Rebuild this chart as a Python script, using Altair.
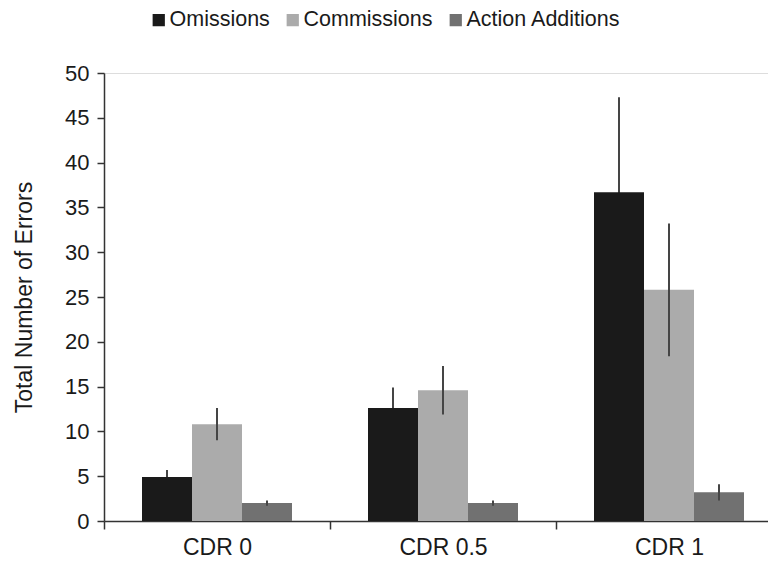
import altair as alt
import pandas as pd

groups = ["CDR 0", "CDR 0.5", "CDR 1"]
series = ["Omissions", "Commissions", "Action Additions"]
colors = ["#1a1a1a", "#ababab", "#717171"]

omissions = [4.9, 12.6, 36.7]
omissions_err = [0.8, 2.3, 10.6]
commissions = [10.8, 14.6, 25.8]
commissions_err = [1.8, 2.7, 7.4]
additions = [2.0, 2.0, 3.2]
additions_err = [0.3, 0.3, 0.9]

rows = []
for vals, errs, name in [(omissions, omissions_err, "Omissions"),
                         (commissions, commissions_err, "Commissions"),
                         (additions, additions_err, "Action Additions")]:
    for g, v, e in zip(groups, vals, errs):
        rows.append({"group": g, "series": name, "value": v,
                     "lo": v - e, "hi": v + e})
df = pd.DataFrame(rows)

FONT = "Liberation Sans"

x = alt.X("group:N", sort=groups, title=None,
          scale=alt.Scale(paddingInner=0, paddingOuter=0, range=[0, 678]),
          axis=alt.Axis(labelAngle=0, tickBand="extent", tickSize=8,
                        labelFontSize=23, labelPadding=7, labelColor="#1a1a1a",
                        domainColor="#333333", tickColor="#333333",
                        domainWidth=1.5, tickWidth=1.5, labelFont=FONT))
xoff = alt.XOffset("series:N", sort=series,
                   scale=alt.Scale(paddingInner=0, paddingOuter=0.76))

bars = alt.Chart(df).mark_bar(size=50).encode(
    x=x,
    xOffset=xoff,
    y=alt.Y("value:Q", title="Total Number of Errors",
            scale=alt.Scale(domain=[0, 50], nice=False),
            axis=alt.Axis(values=list(range(0, 51, 5)), grid=False, tickSize=7,
                          labelFontSize=22, labelPadding=8, labelColor="#1a1a1a",
                          titleFontSize=23, titleFontWeight="normal",
                          titleColor="#1a1a1a", titlePadding=28,
                          domainColor="#333333", tickColor="#333333",
                          domainWidth=1.5, tickWidth=1.5,
                          labelFont=FONT, titleFont=FONT)),
    color=alt.Color("series:N", sort=series,
                    scale=alt.Scale(domain=series, range=colors),
                    legend=alt.Legend(title=None, orient="none", direction="horizontal",
                                      legendX=44, legendY=-64, symbolType="square",
                                      symbolSize=150, symbolStrokeWidth=0,
                                      labelFontSize=21.5, labelFont=FONT,
                                      labelColor="#1a1a1a", columnPadding=12,
                                      labelOffset=0, padding=0)),
)

def err_layer(filter_expr):
    return alt.Chart(df).transform_filter(filter_expr).mark_rule(
        color="#454545", strokeWidth=2).encode(
        x=x,
        xOffset=xoff,
        y="lo:Q",
        y2="hi:Q",
    )

errs_under = err_layer("datum.series === 'Omissions'")
errs_over = err_layer("datum.series !== 'Omissions'")

chart = alt.layer(errs_under, bars, errs_over).properties(
    width=664, height=448,
    autosize=alt.AutoSizeParams(type="none"),
    padding={"left": 96, "top": 65, "right": 0, "bottom": 40},
).configure_view(stroke=None).configure(font=FONT)

chart.save("out.html", embed_options={"renderer": "svg", "actions": False})
